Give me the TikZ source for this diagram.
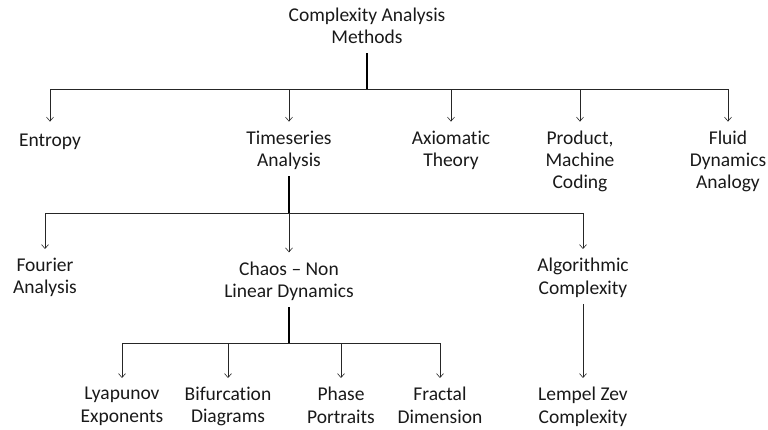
\documentclass[tikz,border=0pt]{standalone}
\usepackage{fontspec}
\setmainfont[Ligatures=NoCommon]{Carlito}
\usetikzlibrary{arrows.meta}

\tikzset{
    voce/.style={align=center, anchor=north, inner sep=3pt, text=black!90,
        font=\fontsize{19.5}{22.3}\selectfont,
        execute at begin node=\strut, execute at end node=\strut},
    ramo/.style={draw=black!85, line width=0.6pt, shorten >=6pt,
        -{Straight Barb[length=4pt,width=7pt]}},
    fusto/.style={draw=black, line width=1.1pt}
}

\begin{document}
\begin{tikzpicture}[x=1pt,y=-1pt]
            \useasboundingbox (0,0) rectangle (768,430);
            %radice
            \node[voce] (root) at (367,4.3) {Complexity Analysis\\Methods};
            \coordinate (rootbar) at (367,89);
            %primo livello
            \node[voce] (entropy) at (50,127.6) {Entropy};
            \node[voce] (ts) at (289,127.6) {Timeseries\\Analysis};
            \node[voce] (axiom) at (451,127.6) {Axiomatic\\Theory};
            \node[voce] (product) at (580,127.6) {Product,\\Machine\\Coding};
            \node[voce] (fluid) at (728,127.6) {Fluid\\Dynamics\\Analogy};
            \draw[fusto] (root.south) -- (rootbar);
            \foreach \n in {entropy,ts,axiom,product,fluid}
                \draw[ramo] (rootbar) -| (\n.north);
            %timeseries
            \coordinate (tsbar) at (289,213);
            \node[voce] (fourier) at (45,255) {Fourier\\Analysis};
            \node[voce] (chaos) at (289,258.3) {Chaos -- Non\\Linear Dynamics};
            \node[voce] (algo) at (583,255) {Algorithmic\\Complexity};
            \draw[fusto] (ts.south) -- (tsbar);
            \foreach \n in {fourier,chaos,algo}
                \draw[ramo] (tsbar) -| (\n.north);
            %chaos
            \coordinate (chaosbar) at (289,343);
            \node[voce] (lyap) at (122,384) {Lyapunov\\Exponents};
            \node[voce] (bif) at (228,384) {Bifurcation\\Diagrams};
            \node[voce] (phase) at (341,384) {Phase\\Portraits};
            \node[voce] (fractal) at (440,384) {Fractal\\Dimension};
            \draw[fusto] (chaos.south) -- (chaosbar);
            \foreach \n in {lyap,bif,phase,fractal}
                \draw[ramo] (chaosbar) -| (\n.north);
            %algoritmica
            \node[voce] (lempel) at (583,384) {Lempel Zev\\Complexity};
            \draw[ramo] (algo.south) -- (lempel.north);
        \end{tikzpicture}
\end{document}
